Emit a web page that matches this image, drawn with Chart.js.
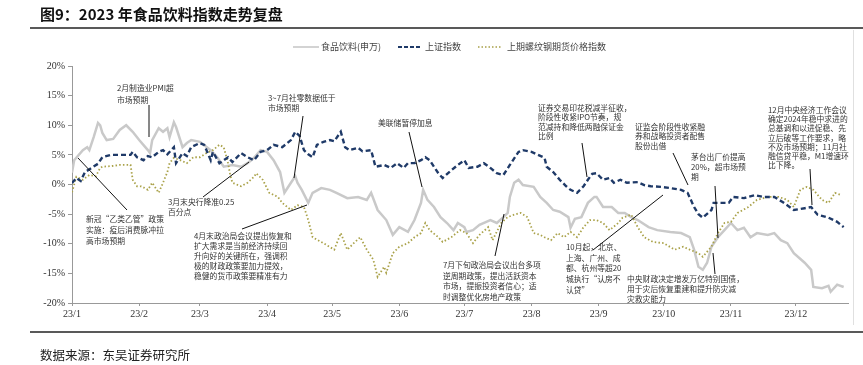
<!DOCTYPE html>
<html>
<head>
<meta charset="utf-8">
<script src="https://cdn.jsdelivr.net/npm/chart.js@4.4.0/dist/chart.umd.min.js"></script>
<style>
html, body { margin: 0; padding: 0; background: #fff; }
</style>
</head>
<body>
<canvas id="trend" width="863" height="365"></canvas>
<script>
// x = day of 2023 (0 = Jan 1), y = cumulative change in %
var monthStarts = [0, 31, 59, 90, 120, 151, 181, 212, 243, 273, 304, 334];
var monthLabels = ['23/1', '23/2', '23/3', '23/4', '23/5', '23/6', '23/7', '23/8', '23/9', '23/10', '23/11', '23/12'];
var yTicks = [-20, -15, -10, -5, 0, 5, 10, 15, 20];

var foodDays = [0,1,5,7,8,10,12,13,14,16,19,22,25,28,31,35,36,37,40,42,44,45,47,48,51,53,55,59,64,67,70,74,78,81,84,87,90,93,96,98,101,103,104,106,109,111,115,119,122,127,132,136,138,141,145,148,151,155,158,161,162,164,167,170,173,176,178,181,182,185,188,193,196,199,201,202,204,206,208,213,216,219,222,225,229,230,232,235,238,241,242,245,249,252,255,258,261,266,270,276,281,285,287,289,291,293,295,298,301,304,307,310,313,316,321,324,327,330,333,338,341,342,346,349,350,353,356];
var foodVals = [2.0,4.1,5.8,6.3,5.8,8.0,10.4,10.0,8.7,7.5,7.7,9.2,10.0,8.9,7.5,5.8,5.3,7.5,9.5,8.9,9.5,8.0,10.5,9.7,6.3,7.0,7.5,7.2,5.8,4.6,3.0,3.3,3.0,3.6,4.5,5.8,5.5,4.1,2.1,-1.4,0.3,1.4,0.3,-0.9,-3.1,-1.4,-0.6,-0.9,-1.4,-2.3,-2.1,-2.6,-1.4,-4.3,-6.0,-8.5,-7.2,-8.0,-6.0,-3.1,-0.9,-2.6,-3.8,-5.5,-6.5,-7.7,-6.5,-7.2,-8.0,-7.7,-6.8,-6.0,-6.5,-5.5,-4.8,-2.1,0.3,0.8,-0.1,-0.4,-2.1,-3.1,-4.3,-4.6,-5.5,-7.3,-5.8,-5.5,-3.1,-2.1,-2.1,-3.8,-3.8,-4.8,-4.8,-5.5,-6.0,-7.2,-7.7,-8.0,-8.2,-8.9,-11.0,-13.9,-14.4,-13.2,-10.5,-8.9,-7.7,-6.5,-7.7,-7.3,-8.9,-8.2,-8.5,-8.2,-9.4,-9.9,-11.6,-13.2,-14.4,-17.3,-17.5,-17.1,-18.1,-16.9,-17.3];

var shDays = [0,2,4,6,9,12,14,18,22,27,28,30,33,35,37,40,42,44,47,48,51,53,55,59,61,64,65,68,72,74,78,81,84,87,90,93,95,97,101,103,105,107,109,111,113,116,119,121,124,126,128,132,134,138,140,144,147,150,153,155,158,161,163,165,169,171,175,178,181,183,187,190,193,196,199,202,206,208,212,215,218,219,222,225,228,230,233,236,238,240,242,245,248,250,253,256,261,264,267,272,276,281,284,287,289,291,295,296,299,303,305,310,315,319,324,328,333,338,341,344,349,353,356];
var shVals = [0.25,1.1,0.6,2.1,2.8,3.5,4.6,5.0,5.0,5.0,5.5,4.6,4.1,4.8,4.6,5.5,5.8,5.1,6.3,3.6,5.3,4.8,6.3,7.0,6.7,4.1,5.5,3.6,4.6,3.8,5.3,4.6,4.1,5.5,5.8,6.7,6.5,6.3,7.5,8.9,8.2,5.8,5.1,4.6,6.7,7.2,7.5,7.3,8.9,6.3,5.8,6.2,5.6,5.8,3.0,3.3,2.8,3.6,2.8,3.6,3.6,4.1,4.6,4.1,1.9,1.1,2.4,3.3,4.1,2.8,3.0,3.6,2.8,1.9,1.6,3.3,5.5,5.8,5.5,5.0,4.5,3.0,2.1,0.8,-0.3,-0.9,-1.4,-0.3,0.8,1.8,1.9,0.8,1.1,0.3,0.8,0.3,0.4,-0.1,-0.3,-0.4,-0.6,-0.9,-1.4,-3.8,-5.0,-5.6,-4.3,-3.1,-3.1,-3.1,-2.1,-2.3,-1.8,-2.1,-2.1,-3.0,-4.3,-4.0,-3.8,-5.1,-5.6,-6.3,-7.2];

var rebarDays = [0,2,5,8,11,13,14,18,22,27,28,30,32,35,37,40,42,44,45,47,50,53,56,59,62,65,68,70,72,73,74,78,81,84,85,88,91,95,97,101,104,107,109,111,116,121,124,127,130,133,136,139,141,144,145,148,151,155,158,161,163,165,169,171,175,179,182,185,188,192,194,198,201,204,207,210,213,216,218,221,224,227,230,233,236,239,242,245,248,252,254,258,261,264,268,273,278,282,285,289,291,295,298,301,304,307,312,316,321,326,330,333,336,339,342,346,349,352,355];
var rebarVals = [-1.3,1.3,0.8,1.6,1.4,2.8,3.0,3.1,3.3,3.3,0.8,-0.3,-0.3,-0.9,0.3,-1.4,0.3,2.1,3.6,4.5,4.1,3.6,4.6,4.6,5.3,5.8,6.7,6.3,3.6,1.6,0.3,-0.3,0.3,1.3,1.9,0.8,-1.4,-2.1,-3.1,-4.3,-3.5,-3.8,-6.0,-8.9,-9.9,-11.0,-8.2,-11.0,-9.9,-8.9,-11.0,-12.7,-15.6,-13.9,-14.9,-11.6,-10.5,-9.9,-8.9,-8.2,-6.5,-7.7,-8.9,-9.7,-8.9,-7.7,-8.2,-9.9,-8.5,-7.2,-9.4,-6.5,-5.5,-5.1,-4.8,-5.5,-8.2,-8.5,-8.9,-9.4,-8.2,-8.9,-8.0,-8.9,-7.2,-6.0,-6.0,-6.5,-7.7,-6.5,-5.6,-5.1,-7.2,-8.9,-9.7,-9.9,-11.0,-10.5,-11.0,-11.6,-12.2,-10.5,-8.2,-6.5,-6.3,-4.8,-3.8,-2.6,-2.1,-2.1,-2.6,-3.8,-0.9,-0.4,-0.9,-2.6,-3.1,-1.4,-1.8];

function pairs(days, vals) {
    return days.map(function(d, i) { return { x: d, y: vals[i] }; });
}

var cjk = '"Noto Sans CJK SC", "Noto Sans", sans-serif';
var serif = '"Liberation Serif", "DejaVu Serif", serif';

// event notes: text block + leader line (pixel positions on the canvas)
var notes = [
    { x: 117, y: 88, lh: 12, lines: ['2月制造业PMI超', '市场预期'], line: [149, 105, 149, 137] },
    { x: 268, y: 98, lh: 10, lines: ['3~7月社零数据低于', '市场预期'], line: [303, 116, 294, 178] },
    { x: 378, y: 123, lh: 10, lines: ['美联储暂停加息'], line: [409, 132, 422, 187] },
    { x: 538, y: 108, lh: 9.3, lines: ['证券交易印花税减半征收，', '阶段性收紧IPO节奏，规', '范减持和降低两融保证金', '比例'], line: [582, 143, 587, 177] },
    { x: 635, y: 127, lh: 9.3, lines: ['证监会阶段性收紧融', '券和战略投资者配售', '股份出借'], line: [673, 153, 688, 185] },
    { x: 691, y: 157, lh: 10, lines: ['茅台出厂价提高', '20%，超市场预', '期'], line: [715, 186, 718, 238] },
    { x: 768, y: 110, lh: 9.2, lines: ['12月中央经济工作会议', '确定2024年稳中求进的', '总基调和以进促稳、先', '立后破等工作要求，略', '不及市场预期；11月社', '融信贷平稳，M1增速环', '比下降。'], line: [810, 169, 812, 205] },
    { x: 86, y: 219, lh: 11, lines: ['新冠“乙类乙管”政策', '实施：疫后消费脉冲拉', '高市场预期'], line: [78, 158, 127, 210] },
    { x: 168, y: 202, lh: 10.5, lines: ['3月末央行降准0.25', '百分点'], line: [203, 197, 249, 162] },
    { x: 194, y: 236, lh: 10, lines: ['4月末政治局会议提出恢复和', '扩大需求是当前经济持续回', '升向好的关键所在，强调积', '极的财政政策要加力提效，', '稳健的货币政策要精准有力'], line: [242, 229, 307, 205] },
    { x: 443, y: 265, lh: 10.7, lines: ['7月下旬政治局会议出台多项', '逆周期政策，提出活跃资本', '市场，提振投资者信心；适', '时调整优化房地产政策'], line: [495, 256, 504, 214] },
    { x: 566, y: 247, lh: 10.7, lines: ['10月起，北京、', '上海、广州、成', '都、杭州等超20', '城执行“认房不', '认贷”'], line: [593, 250, 663, 195] },
    { x: 627, y: 279, lh: 10, lines: ['中央财政决定增发万亿特别国债，', '用于灾后恢复重建和提升防灾减', '灾救灾能力'], line: [713, 253, 715, 274] }
];

var frame = {
    id: 'frame',
    afterDraw: function(chart) {
        var ctx = chart.ctx;
        ctx.save();
        // title + rules
        ctx.fillStyle = '#111';
        ctx.font = 'bold 15px ' + cjk;
        ctx.textBaseline = 'middle';
        ctx.textAlign = 'left';
        ctx.fillText('图9：2023 年食品饮料指数走势复盘', 40, 14);
        ctx.strokeStyle = '#222';
        ctx.lineWidth = 1.6;
        ctx.beginPath(); ctx.moveTo(30, 28); ctx.lineTo(863, 28); ctx.stroke();
        ctx.beginPath(); ctx.moveTo(30, 332); ctx.lineTo(863, 332); ctx.stroke();
        ctx.strokeStyle = '#e0e0e0';
        ctx.lineWidth = 1;
        ctx.beginPath(); ctx.moveTo(853.5, 30); ctx.lineTo(853.5, 325); ctx.stroke();
        ctx.fillStyle = '#222';
        ctx.font = '12.5px ' + cjk;
        ctx.fillText('数据来源：东吴证券研究所', 40, 355);

        // legend
        var ly = 47;
        ctx.font = '9px ' + cjk;
        ctx.fillStyle = '#444';
        ctx.lineWidth = 1.6;
        ctx.strokeStyle = '#c8c8c8';
        ctx.beginPath(); ctx.moveTo(293, ly); ctx.lineTo(319, ly); ctx.stroke();
        ctx.fillText('食品饮料(申万)', 321, ly);
        ctx.strokeStyle = '#1f3a68';
        ctx.lineWidth = 2.2;
        ctx.setLineDash([4, 2]);
        ctx.beginPath(); ctx.moveTo(398, ly); ctx.lineTo(422, ly); ctx.stroke();
        ctx.fillText('上证指数', 425, ly);
        ctx.strokeStyle = '#a8a048';
        ctx.lineWidth = 1.6;
        ctx.setLineDash([1.5, 2]);
        ctx.beginPath(); ctx.moveTo(478, ly); ctx.lineTo(502, ly); ctx.stroke();
        ctx.setLineDash([]);
        ctx.fillText('上期螺纹钢期货价格指数', 507, ly);

        // notes
        ctx.font = '7.8px ' + cjk;
        ctx.fillStyle = '#333';
        ctx.strokeStyle = '#111';
        ctx.lineWidth = 1;
        notes.forEach(function(n) {
            n.lines.forEach(function(t, i) { ctx.fillText(t, n.x, n.y + i * n.lh); });
            ctx.beginPath();
            ctx.moveTo(n.line[0], n.line[1]);
            ctx.lineTo(n.line[2], n.line[3]);
            ctx.stroke();
        });
        ctx.restore();
    }
};

var trend = new Chart(document.getElementById('trend'), {
    type: 'line',
    data: {
        datasets: [{
            label: '食品饮料(申万)',
            data: pairs(foodDays, foodVals),
            borderColor: '#c9c9c9',
            borderWidth: 2.5,
            pointRadius: 0,
            order: 2
        }, {
            label: '上证指数',
            data: pairs(shDays, shVals),
            borderColor: '#1f3a68',
            borderWidth: 2.4,
            borderDash: [5, 3],
            pointRadius: 0,
            order: 0
        }, {
            label: '上期螺纹钢期货价格指数',
            data: pairs(rebarDays, rebarVals),
            borderColor: '#aaa24a',
            borderWidth: 1.8,
            borderDash: [1.5, 2.2],
            pointRadius: 0,
            order: 1
        }]
    },
    options: {
        responsive: false,
        animation: false,
        devicePixelRatio: 1,
        layout: { padding: { left: 0, top: 66, right: 15, bottom: 42 } },
        plugins: { legend: { display: false }, tooltip: { enabled: false } },
        scales: {
            x: {
                type: 'linear',
                min: 0,
                max: 358,
                afterFit: function(s) { s.height = 20; },
                afterBuildTicks: function(s) { s.ticks = monthStarts.map(function(v) { return { value: v }; }); },
                ticks: {
                    autoSkip: false,
                    maxRotation: 0,
                    padding: 2,
                    color: '#333',
                    font: { family: serif, size: 10 },
                    callback: function(v) { return monthLabels[monthStarts.indexOf(v)]; }
                },
                grid: { drawOnChartArea: false, tickLength: 3, color: '#999' },
                border: { color: '#999' }
            },
            y: {
                min: -20,
                max: 20,
                afterFit: function(s) { s.width = 72; },
                afterBuildTicks: function(s) { s.ticks = yTicks.map(function(v) { return { value: v }; }); },
                ticks: {
                    padding: 3,
                    color: '#333',
                    font: { family: serif, size: 10 },
                    callback: function(v) { return v + '%'; }
                },
                grid: { drawOnChartArea: false, tickLength: 4, color: '#999' },
                border: { color: '#999' }
            }
        }
    },
    plugins: [frame]
});
</script>
</body>
</html>
